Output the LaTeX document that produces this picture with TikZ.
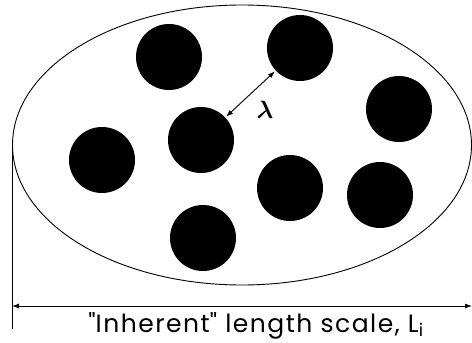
\documentclass[tikz,border=0pt]{standalone}
\usepackage{amsmath}
\usepackage{fontspec}
\setmainfont{Poppins}
\usetikzlibrary{arrows.meta,shapes.geometric}
\begin{document}
\begin{tikzpicture}[x=1pt,y=-1pt,
  particle/.style={circle,fill=black,minimum size=66pt,inner sep=0pt},
  thin line/.style={line width=0.9pt}]
\useasboundingbox (0,0) rectangle (472,343);
\node[draw,ellipse,thin line,minimum width=459pt,minimum height=280pt,inner sep=0pt] (blob) at (242,145) {};
\node[particle] (p1) at (169,57) {};
\node[particle] (p2) at (201,140) {};
\node[particle] (p3) at (102,160) {};
\node[particle] (p4) at (300,48) {};
\node[particle] (p5) at (399,109) {};
\node[particle] (p6) at (290,188) {};
\node[particle] (p7) at (380,195) {};
\node[particle] (p8) at (203,238) {};
\draw[thin line,{Latex[length=7pt,width=5pt]}-{Latex[length=7pt,width=5pt]},shorten <=1pt,shorten >=1pt] (p2) -- (p4);
\node (lam) at (265,110) {\fontsize{26}{26}\selectfont$\boldsymbol{\lambda}$};
\coordinate (vtop) at (12,150);
\coordinate (vbot) at (12,329);
\coordinate (dl) at (12,306);
\coordinate (dr) at (472,306);
\draw[thin line] (vtop) -- (vbot);
\draw[thin line,{Latex[length=7pt,width=5pt]}-{Latex[length=7pt,width=5pt]}] (dl) -- (dr);
\node[anchor=base,inner sep=0pt] (label) at (256,332) {\fontsize{25}{25}\selectfont\addfontfeature{LetterSpace=6}\textquotedbl Inherent\textquotedbl\ length scale, L\textsubscript{i}};
\end{tikzpicture}
\end{document}
